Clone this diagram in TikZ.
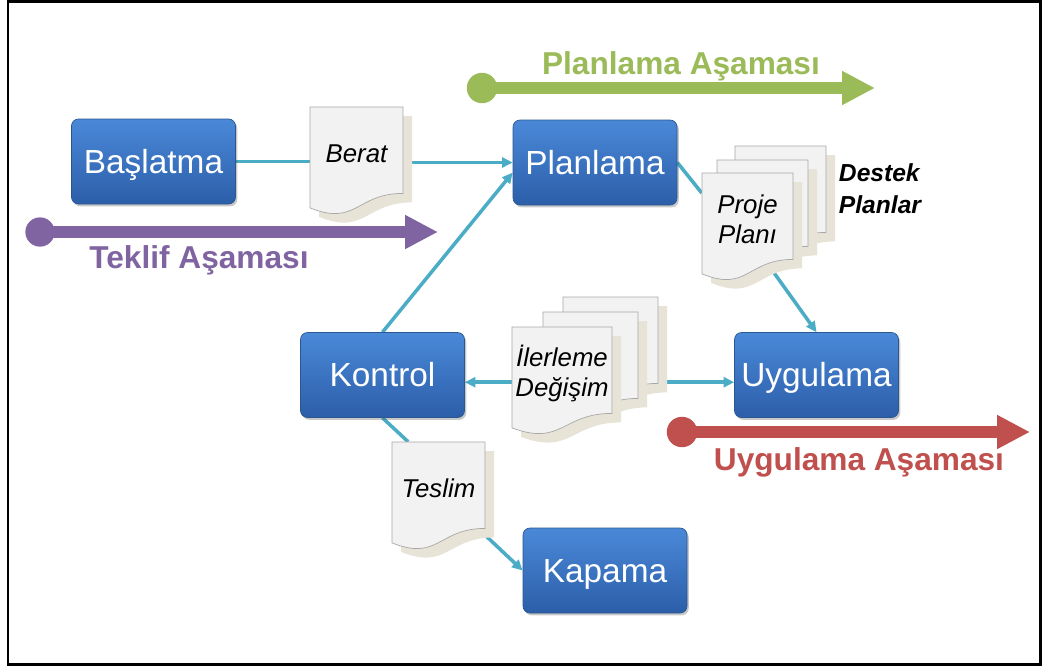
\documentclass[tikz,border=0pt]{standalone}
\usepackage{fontspec}
\setmainfont{Liberation Sans}
\usetikzlibrary{arrows.meta,shadows,calc}

\definecolor{linkteal}{HTML}{4BACC6}
\definecolor{boxtop}{HTML}{4A89D8}
\definecolor{boxbot}{HTML}{2C5EA9}
\definecolor{boxedge}{HTML}{2A578F}
\definecolor{paperfill}{HTML}{F2F2F2}
\definecolor{paperedge}{HTML}{A8A8A8}
\definecolor{papershade}{HTML}{E7E4D7}
\definecolor{phasepurple}{HTML}{8064A2}
\definecolor{phasegreen}{HTML}{9BBB59}
\definecolor{phasered}{HTML}{C0504D}

\pgfdeclarelayer{canvas}
\pgfdeclarelayer{links}
\pgfdeclarelayer{papers}
\pgfsetlayers{canvas,links,papers,main}

% outline of a sheet with a wavy bottom edge: top-left x, top-left y, width, height
\newcommand{\sheetpath}[4]{({#1},{#2}) -- ({#1+#3},{#2}) -- ({#1+#3},{#2+0.8*#4})
  .. controls ({#1+0.5*#3},{#2+0.8*#4}) and ({#1+0.5*#3},{#2+1.107*#4}) .. ({#1},{#2+0.934*#4}) -- cycle}
% one sheet with its soft shade
\newcommand{\sheet}[4]{%
  \fill[papershade] \sheetpath{#1+9}{#2+9}{#3}{#4};
  \filldraw[fill=paperfill, draw=paperedge, line width=0.6pt] \sheetpath{#1}{#2}{#3}{#4};}

\tikzset{
  stage/.style={rounded corners=6pt, minimum width=4.92cm, minimum height=2.55cm,
    top color=boxtop, bottom color=boxbot, draw=boxedge, line width=0.6pt,
    text=white, inner sep=0pt, text height=20pt, text depth=0pt,
    font=\fontsize{28.5}{30}\selectfont,
    drop shadow={shadow xshift=1.5pt, shadow yshift=-2pt, opacity=0.3, fill=black!70}},
  docnote/.style={minimum height=2.79cm, inner sep=0pt, align=center,
    font=\itshape\fontsize{22}{26}\selectfont},
  link/.style={draw=linkteal, line width=3pt},
  tipped/.style={link, -{Triangle[length=9pt,width=8.5pt]}},
  phasearrow/.style={line width=10pt, -{Triangle[length=28pt,width=27pt]}},
  phaselabel/.style={font=\bfseries\fontsize{27}{30}\selectfont, inner sep=0pt}
}

\begin{document}
\begin{tikzpicture}[x=0.03cm, y=-0.03cm]
\begin{pgfonlayer}{canvas}
  \fill[white] (0,0) rectangle (1045,666);
\end{pgfonlayer}
\useasboundingbox (0,0) rectangle (1045,666);
\draw[line width=2.55pt] (8,1.5) rectangle (1040.5,664.5);

% process stages
\node[stage] (baslatma) at (153.5,161.5) {Başlatma};
\node[stage] (planlama) at (595,162.5) {Planlama};
\node[stage] (kontrol)  at (382.5,375) {Kontrol};
\node[stage] (uygulama) at (816.5,375) {Uygulama};
\node[stage] (kapama)   at (605,570.5) {Kapama};

% documents passed between stages
\begin{pgfonlayer}{papers}
  \sheet{310}{107}{93}{108}
  \sheet{735}{146}{91}{108}
  \sheet{717}{160}{91}{108}
  \sheet{702}{173}{91}{108}
  \sheet{563}{297}{95}{108}
  \sheet{543}{312}{95}{108}
  \sheet{512}{327}{100}{108}
  \sheet{392}{442}{93}{108}
\end{pgfonlayer}
\node[docnote, minimum width=2.79cm] (berat) at (356.5,153.5) {Berat};
\node[docnote, minimum width=2.73cm] (proje) at (747.5,219.5) {Proje\\Planı};
\node[docnote, minimum width=3.0cm] (ilerleme) at (562,373.5) {İlerleme\\Değişim};
\node[docnote, minimum width=2.79cm] (teslim) at (438.5,488.5) {Teslim};
\node[font=\bfseries\itshape\fontsize{21}{27}\selectfont, align=left, inner sep=0pt] (destek) at (880,189) {Destek\\Planlar};

% connectors
\begin{pgfonlayer}{links}
  \draw[link] (baslatma.east) -- (baslatma.east -| berat.west);
  \draw[tipped] (planlama.west -| berat.east) -- (planlama.west);
  \draw[link] (planlama.east) -- (proje.150);
  \draw[tipped] (proje.-65) -- (uygulama.north);
  \draw[tipped] (kontrol.-5 -| ilerleme.west) -- (kontrol.-5);
  \draw[tipped] (uygulama.185 -| ilerleme.east) -- (uygulama.185);
  \draw[tipped] (kontrol.north) -- (planlama.-173);
  \draw[link] (kontrol.south) -- (teslim.123);
  \draw[tipped] (teslim.south east) -- (kapama.west);
\end{pgfonlayer}

% phase arrows
\coordinate (teklifstart) at (40,232);
\coordinate (teklifend) at (438,232);
\fill[phasepurple] (teklifstart) circle[radius=12.5pt];
\draw[phasearrow, phasepurple] (teklifstart) -- (teklifend);
\node[phaselabel, text=phasepurple] (teklif) at (199,260) {Teklif Aşaması};

\coordinate (planstart) at (482,88);
\coordinate (planend) at (875,88);
\fill[phasegreen] (planstart) circle[radius=13pt];
\draw[phasearrow, phasegreen] (planstart) -- (planend);
\node[phaselabel, text=phasegreen] (planphase) at (681,66) {Planlama Aşaması};

\coordinate (uygstart) at (682,432);
\coordinate (uygend) at (1030,432);
\fill[phasered] (uygstart) circle[radius=13pt];
\draw[phasearrow, phasered] (uygstart) -- (uygend);
\node[phaselabel, text=phasered] (uygphase) at (859,462) {Uygulama Aşaması};
\end{tikzpicture}
\end{document}
